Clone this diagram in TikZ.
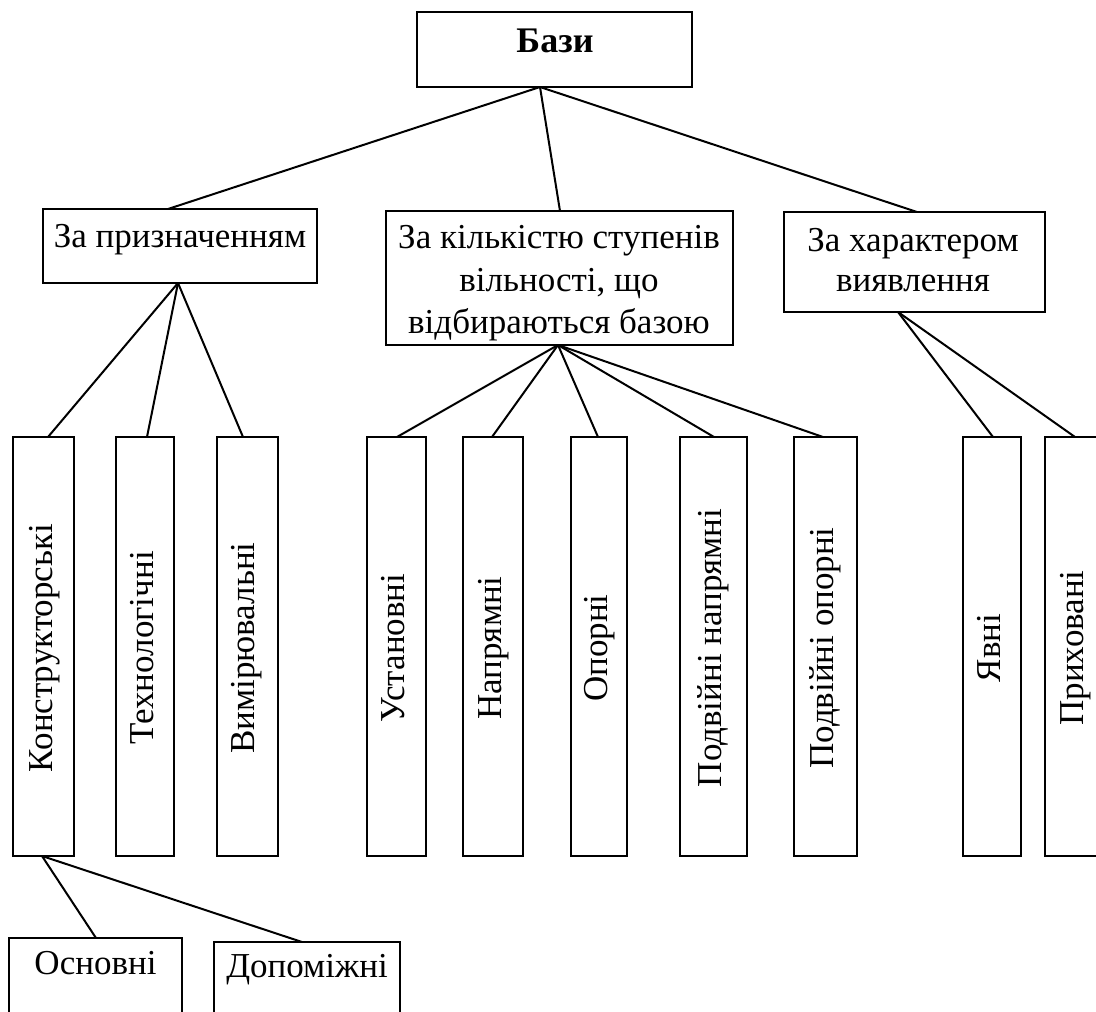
\documentclass[tikz,border=0pt]{standalone}
\usepackage{fontspec}
\setmainfont{Liberation Serif}
\usetikzlibrary{calc}
\tikzset{
  box/.style={draw, line width=2.3pt, rectangle, inner sep=0pt, outer sep=0pt},
  conn/.style={line width=2pt},
  txt/.style={inner sep=0pt, outer sep=0pt, font=\fontsize{35}{42}\selectfont, anchor=base},
  vtxt/.style={txt, rotate=90},
  btxt/.style={txt, font=\fontsize{36}{42}\selectfont\bfseries}
}
\begin{document}
\begin{tikzpicture}[x=1pt,y=-1pt]
\useasboundingbox (0,0) rectangle (1096,1012);
\clip (0,0) rectangle (1096,1012);
% level 0
\node[box, minimum width=275pt, minimum height=75pt] (bazy) at (554.5,49.5) {};
% level 1
\node[box, minimum width=274pt, minimum height=74pt] (pryzn) at (180,246) {};
\node[box, minimum width=347pt, minimum height=134pt] (kilk) at (559.5,278) {};
\node[box, minimum width=261pt, minimum height=100pt] (khar) at (914.5,262) {};
% level 2 (vertical boxes)
\node[box, minimum width=61pt, minimum height=419pt] (v1) at (43.5,646.5) {};
\node[box, minimum width=58pt, minimum height=419pt] (v2) at (145,646.5) {};
\node[box, minimum width=61pt, minimum height=419pt] (v3) at (247.5,646.5) {};
\node[box, minimum width=59pt, minimum height=419pt] (v4) at (396.5,646.5) {};
\node[box, minimum width=60pt, minimum height=419pt] (v5) at (493,646.5) {};
\node[box, minimum width=56pt, minimum height=419pt] (v6) at (599,646.5) {};
\node[box, minimum width=67pt, minimum height=419pt] (v7) at (713.5,646.5) {};
\node[box, minimum width=63pt, minimum height=419pt] (v8) at (825.5,646.5) {};
\node[box, minimum width=58pt, minimum height=419pt] (v9) at (992,646.5) {};
\node[box, minimum width=60pt, minimum height=419pt] (v10) at (1075,646.5) {};
% level 3
\node[box, minimum width=173pt, minimum height=100pt] (osn) at (95.5,988) {};
\node[box, minimum width=186pt, minimum height=100pt] (dop) at (307,992) {};

% texts
\node[btxt] (tbazy) at (555,52) {Бази};
\node[txt] (tpryzn) at (180,247) {За призначенням};
\node[txt] (tkilk1) at (559,248) {За кількістю ступенів};
\node[txt] (tkilk2) at (559,291) {вільності, що};
\node[txt] (tkilk3) at (559,333) {відбираються базою};
\node[txt] (tkhar1) at (913,251) {За характером};
\node[txt] (tkhar2) at (913,291) {виявлення};
\node[vtxt] (tv1) at (52,648) {Конструкторські};
\node[vtxt] (tv2) at (153.5,648) {Технологічні};
\node[vtxt] (tv3) at (254.5,648) {Вимірювальні};
\node[vtxt] (tv4) at (404.5,648) {Установні};
\node[vtxt] (tv5) at (501,648) {Напрямні};
\node[vtxt] (tv6) at (607,648) {Опорні};
\node[vtxt] (tv7) at (721.5,648) {Подвійні напрямні};
\node[vtxt] (tv8) at (833.5,648) {Подвійні опорні};
\node[vtxt] (tv9) at (1000,648) {Явні};
\node[vtxt] (tv10) at (1083,648) {Приховані};
\node[txt] (tosn) at (95.5,974) {Основні};
\node[txt] (tdop) at (307,977) {Допоміжні};

% connectors
\draw[conn] ([xshift=-14.5pt]bazy.south) -- ([xshift=-12pt]pryzn.north);
\draw[conn] ([xshift=-14.5pt]bazy.south) -- ([xshift=0.5pt]kilk.north);
\draw[conn] ([xshift=-14.5pt]bazy.south) -- ([xshift=2.5pt]khar.north);

\draw[conn] ([xshift=-2pt]pryzn.south) -- ([xshift=4.5pt]v1.north);
\draw[conn] ([xshift=-2pt]pryzn.south) -- ([xshift=2pt]v2.north);
\draw[conn] ([xshift=-2pt]pryzn.south) -- ([xshift=-4.5pt]v3.north);

\draw[conn] ([xshift=-1.5pt]kilk.south) -- ([xshift=0.5pt]v4.north);
\draw[conn] ([xshift=-1.5pt]kilk.south) -- ([xshift=-1pt]v5.north);
\draw[conn] ([xshift=-1.5pt]kilk.south) -- ([xshift=-1pt]v6.north);
\draw[conn] ([xshift=-1.5pt]kilk.south) -- ([xshift=0.5pt]v7.north);
\draw[conn] ([xshift=-1.5pt]kilk.south) -- ([xshift=-2.5pt]v8.north);

\draw[conn] ([xshift=-16.5pt]khar.south) -- ([xshift=1pt]v9.north);
\draw[conn] ([xshift=-16.5pt]khar.south) -- ([xshift=0pt]v10.north);

\draw[conn] ([xshift=-1.5pt]v1.south) -- ([xshift=0.5pt]osn.north);
\draw[conn] ([xshift=-1.5pt]v1.south) -- ([xshift=-5pt]dop.north);
\end{tikzpicture}
\end{document}
